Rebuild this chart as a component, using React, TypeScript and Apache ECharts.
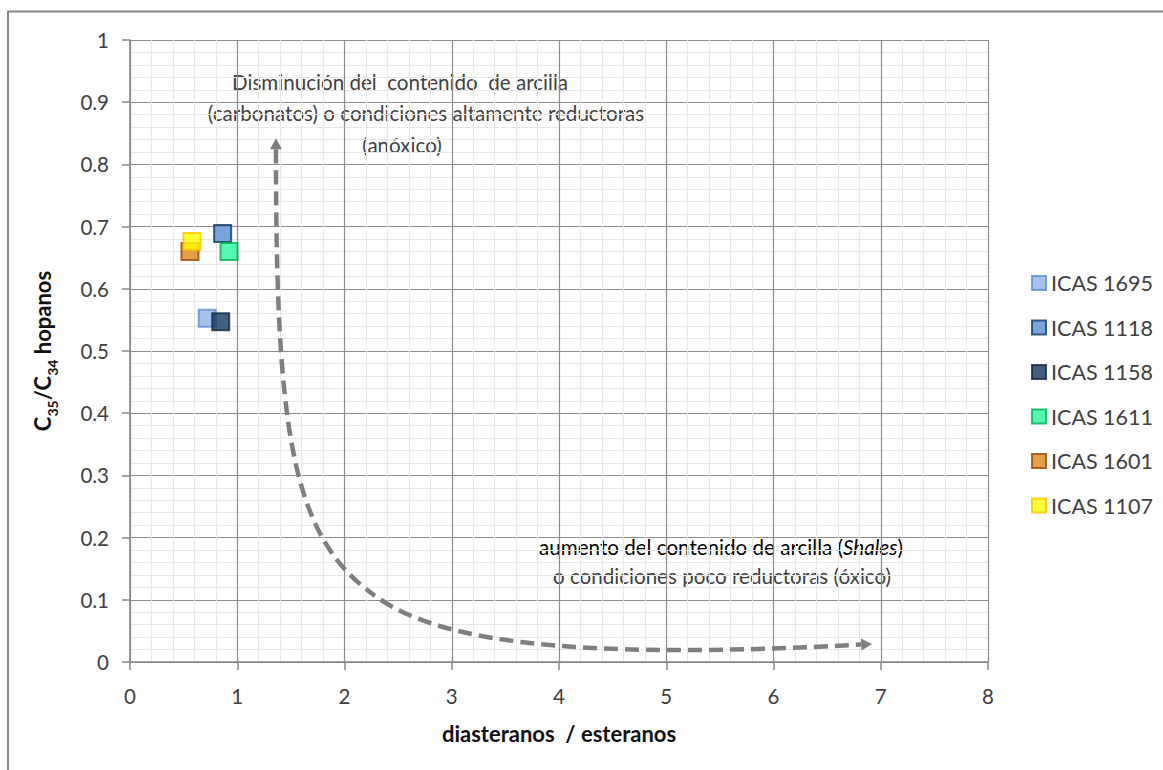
import React, { useEffect, useRef } from "react";
import * as echarts from "echarts";

const seriesNames = ["ICAS 1695", "ICAS 1118", "ICAS 1158", "ICAS 1611", "ICAS 1601", "ICAS 1107"];
const xValues = [0.72, 0.864, 0.846, 0.923, 0.559, 0.578];
const yValues = [0.5525, 0.689, 0.547, 0.66, 0.66, 0.676];
const fillColors = ["#8EB4E3", "#558ED5", "#17375E", "#2CF59F", "#E0861A", "#FFFF00"];
const borderColors = ["#5B8FD4", "#17375E", "#10253F", "#00B050", "#984807", "#FFC000"];

// dashed arrow annotation (cubic bezier control points in data units)
const arrowSeg1 = [[1.361, 0.842], [1.361, 0.389], [1.492, 0.212], [2.21, 0.116]];
const arrowSeg2 = [[2.21, 0.116], [2.704, 0.048], [3.64, -0.002], [6.92, 0.029]];

const noteTop = [
  "Disminución del  contenido  de arcilla",
  "(carbonatos) o condiciones altamente reductoras",
  "(anóxico)",
];

const FONT = "Lato, 'Open Sans', sans-serif";
const TXT = "#404040";

export default function App() {
  const ref = useRef<HTMLDivElement>(null);
  useEffect(() => {
    if (!ref.current) return;
    const chart = echarts.init(ref.current, undefined, { renderer: "svg" });

    const scatterSeries = seriesNames.map((n, i) => ({
      name: n,
      type: "scatter",
      symbol: "rect",
      symbolSize: 17,
      data: [[xValues[i], yValues[i]]],
      itemStyle: { color: fillColors[i], borderColor: borderColors[i], borderWidth: 2 },
      z: 5,
    }));

    const arrowSeries = {
      type: "custom",
      coordinateSystem: "cartesian2d",
      silent: true,
      clip: false,
      data: [[0, 0]],
      z: 3,
      renderItem: (_p: any, api: any) => {
        const s1 = arrowSeg1.map((d) => api.coord(d));
        const s2 = arrowSeg2.map((d) => api.coord(d));
        const L = 11, W = 12;
        const head = (tip: number[], from: number[]) => {
          const dx = tip[0] - from[0], dy = tip[1] - from[1];
          const len = Math.hypot(dx, dy);
          const ux = dx / len, uy = dy / len;
          const bx = tip[0] - ux * L, by = tip[1] - uy * L;
          return {
            base: [bx, by],
            pts: [tip, [bx - uy * W / 2, by + ux * W / 2], [bx + uy * W / 2, by - ux * W / 2]],
          };
        };
        const h1 = head(s1[0], s1[1]);
        const h2 = head(s2[3], s2[2]);
        const style = { stroke: "#7F7F7F", lineWidth: 4.5, lineDash: [14, 7], fill: null };
        return {
          type: "group",
          children: [
            {
              type: "bezierCurve",
              shape: { x1: h1.base[0], y1: h1.base[1], cpx1: s1[1][0], cpy1: s1[1][1], cpx2: s1[2][0], cpy2: s1[2][1], x2: s1[3][0], y2: s1[3][1] },
              style,
            },
            {
              type: "bezierCurve",
              shape: { x1: s2[0][0], y1: s2[0][1], cpx1: s2[1][0], cpy1: s2[1][1], cpx2: s2[2][0], cpy2: s2[2][1], x2: h2.base[0], y2: h2.base[1] },
              style: { ...style, lineDashOffset: 4 },
            },
            { type: "polygon", shape: { points: h1.pts }, style: { fill: "#7F7F7F" } },
            { type: "polygon", shape: { points: h2.pts }, style: { fill: "#7F7F7F" } },
          ],
        };
      },
    };

    const NOTE_SIZE = 20.6;
    const noteStyle = { font: `${NOTE_SIZE}px ${FONT}`, fill: TXT, textAlign: "center", textVerticalAlign: "middle" };

    chart.setOption({
      animation: false,
      backgroundColor: "#ffffff",
      textStyle: { fontFamily: FONT },
      grid: { left: 130, right: 175, top: 40, bottom: 108, containLabel: false },
      xAxis: {
        type: "value",
        min: 0,
        max: 8,
        interval: 1,
        name: "diasteranos  / esteranos",
        nameLocation: "middle",
        nameGap: 60,
        nameTextStyle: { fontSize: 22, fontWeight: "bold", color: "#111", fontFamily: FONT },
        axisLine: { show: true, onZero: false, lineStyle: { color: "#868686", width: 1.5 } },
        axisTick: { show: true, length: 8, lineStyle: { color: "#868686", width: 1.5 } },
        axisLabel: { fontSize: 20.5, color: TXT, margin: 23, fontFamily: FONT },
        splitLine: { show: true, lineStyle: { color: "#8c8c8c", width: 1.2 } },
        minorTick: { show: false, splitNumber: 5 },
        minorSplitLine: { show: true, lineStyle: { color: "#e8e8e8", width: 1 } },
      },
      yAxis: {
        type: "value",
        min: 0,
        max: 1,
        interval: 0.1,
        name: "{b|C}{s|35}{b|/C}{s|34}{b| hopanos}",
        nameLocation: "middle",
        nameGap: 74,
        nameTextStyle: {
          color: "#111",
          rich: {
            b: { fontSize: 22, fontWeight: "bold", fontFamily: FONT, color: "#111", lineHeight: 28, verticalAlign: "middle" },
            s: { fontSize: 14, fontWeight: "bold", fontFamily: FONT, color: "#111", lineHeight: 28, verticalAlign: "bottom", padding: [0, 0, -3, 0] },
          },
        },
        axisLine: { show: true, lineStyle: { color: "#868686", width: 1.5 } },
        axisTick: { show: true, length: 8, lineStyle: { color: "#868686", width: 1.5 } },
        axisLabel: { fontSize: 20.5, color: TXT, margin: 21, fontFamily: FONT },
        splitLine: { show: true, lineStyle: { color: "#8c8c8c", width: 1.2 } },
        minorTick: { show: false, splitNumber: 5 },
        minorSplitLine: { show: true, lineStyle: { color: "#e8e8e8", width: 1 } },
      },
      legend: {
        data: seriesNames,
        orient: "vertical",
        left: 1026,
        top: 267,
        itemWidth: 14,
        itemHeight: 14,
        itemGap: 22.5,
        icon: "rect",
        textStyle: { fontSize: 21.5, color: TXT, fontFamily: FONT, lineHeight: 20 },
        selectedMode: false,
      },
      graphic: [
        {
          type: "rect",
          shape: { x: 8, y: 11.5, width: 2000, height: 2000 },
          style: { fill: null, stroke: "#868686", lineWidth: 2 },
          silent: true,
        },
        { type: "text", x: 400, y: 82, style: { ...noteStyle, text: noteTop[0] } },
        { type: "text", x: 426, y: 113, style: { ...noteStyle, text: noteTop[1] } },
        { type: "text", x: 402, y: 145, style: { ...noteStyle, text: noteTop[2] } },
        {
          type: "text",
          x: 721,
          y: 547,
          style: {
            text: "{n|aumento del contenido de arcilla (}{i|Shales}{n|)}",
            textAlign: "center",
            textVerticalAlign: "middle",
            rich: {
              n: { fontSize: NOTE_SIZE, fontFamily: FONT, color: TXT },
              i: { fontSize: NOTE_SIZE, fontFamily: FONT, color: TXT, fontStyle: "italic" },
            },
          },
        },
        { type: "text", x: 722, y: 576, style: { ...noteStyle, text: "o condiciones poco reductoras (óxico)" } },
      ],
      series: [arrowSeries, ...scatterSeries],
    });
    return () => chart.dispose();
  }, []);
  return <div ref={ref} style={{ position: "absolute", left: 0, top: 0, width: 1163, height: 770 }} />;
}
